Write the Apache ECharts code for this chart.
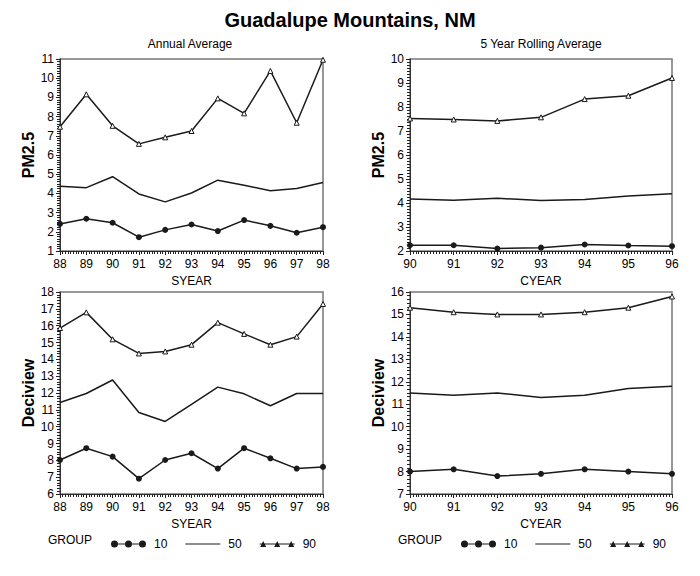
<!DOCTYPE html>
<html><head><meta charset="utf-8">
<script src="https://cdn.jsdelivr.net/npm/echarts@6/dist/echarts.min.js"></script>
<style>html,body{margin:0;padding:0;background:#fff}#c{width:700px;height:576px}</style>
</head><body><div id="c"></div><script>
// ---- data ----
const yearsAnnual = [88, 89, 90, 91, 92, 93, 94, 95, 96, 97, 98];
const yearsRolling = [90, 91, 92, 93, 94, 95, 96];

const pmAnnual10 = [2.41, 2.68, 2.47, 1.72, 2.10, 2.38, 2.04, 2.61, 2.31, 1.95, 2.24];
const pmAnnual50 = [4.37, 4.30, 4.87, 3.97, 3.56, 4.02, 4.69, 4.43, 4.14, 4.25, 4.57];
const pmAnnual90 = [7.47, 9.16, 7.52, 6.58, 6.92, 7.25, 8.95, 8.17, 10.38, 7.68, 10.96];

const pmRolling10 = [2.24, 2.24, 2.10, 2.14, 2.27, 2.23, 2.20];
const pmRolling50 = [4.17, 4.11, 4.20, 4.10, 4.15, 4.29, 4.39];
const pmRolling90 = [7.52, 7.48, 7.42, 7.57, 8.33, 8.47, 9.21];

const dvAnnual10 = [8.02, 8.72, 8.22, 6.91, 8.02, 8.42, 7.51, 8.72, 8.12, 7.51, 7.61];
const dvAnnual50 = [11.44, 11.97, 12.77, 10.84, 10.31, 11.32, 12.35, 11.95, 11.24, 11.97, 11.97];
const dvAnnual90 = [15.86, 16.79, 15.19, 14.35, 14.47, 14.87, 16.18, 15.51, 14.87, 15.35, 17.29];

const dvRolling10 = [8.0, 8.1, 7.8, 7.9, 8.1, 8.0, 7.9];
const dvRolling50 = [11.5, 11.4, 11.5, 11.3, 11.4, 11.7, 11.8];
const dvRolling90 = [15.3, 15.1, 15.0, 15.0, 15.1, 15.3, 15.8];

const groupNames = ['10', '50', '90'];
const mainTitle = 'Guadalupe Mountains, NM';
const subTitles = ['Annual Average', '5 Year Rolling Average'];

// ---- build ----
const FONT = 'Liberation Sans, Arial, sans-serif';
const INK = '#1a1a1a';
const pair = (xs, ys) => xs.map((x, i) => [x, ys[i]]);

const grids = [
  {left: 60, top: 59, width: 263, height: 192},
  {left: 410, top: 59, width: 262, height: 192},
  {left: 60, top: 292, width: 263, height: 202},
  {left: 410, top: 292, width: 262, height: 202}
].map(g => Object.assign(g, {show: true, borderColor: '#777', borderWidth: 1.5, backgroundColor: 'transparent'}));

function xAx(idx, min, max, name, minorN) {
  return {
    type: 'value', gridIndex: idx, min: min, max: max, interval: 1,
    name: name, nameLocation: 'middle', nameGap: 24,
    nameTextStyle: {fontFamily: FONT, fontSize: 12, color: '#000'},
    axisLine: {onZero: false, lineStyle: {color: '#333', width: 1}},
    axisTick: {show: true, length: 4, lineStyle: {color: '#222'}},
    minorTick: {show: true, splitNumber: minorN, length: 3, lineStyle: {color: '#222', width: 1}},
    axisLabel: {fontFamily: FONT, fontSize: 12, color: '#000', margin: 7},
    splitLine: {show: false}
  };
}
function yAx(idx, min, max, name, minorN) {
  return {
    type: 'value', gridIndex: idx, min: min, max: max, interval: 1,
    name: name, nameLocation: 'middle', nameGap: 21,
    nameTextStyle: {fontFamily: FONT, fontSize: 16, fontWeight: 'bold', color: '#000'},
    axisLine: {onZero: false, lineStyle: {color: '#333', width: 1}},
    axisTick: {show: true, length: 4, lineStyle: {color: '#222'}},
    minorTick: {show: true, splitNumber: minorN, length: 3, lineStyle: {color: '#222', width: 1}},
    axisLabel: {fontFamily: FONT, fontSize: 12, color: '#000', margin: 6},
    splitLine: {show: false}
  };
}

const xAxes = [
  xAx(0, 88, 98, 'SYEAR', 10),
  xAx(1, 90, 96, 'CYEAR', 15),
  xAx(2, 88, 98, 'SYEAR', 10),
  xAx(3, 90, 96, 'CYEAR', 15)
];
const yAxes = [
  yAx(0, 1, 11, 'PM2.5', 8),
  yAx(1, 2, 10, 'PM2.5', 8),
  yAx(2, 6, 18, 'Deciview', 6),
  yAx(3, 7, 16, 'Deciview', 6)
];

const panelData = [
  [yearsAnnual, pmAnnual10, pmAnnual50, pmAnnual90],
  [yearsRolling, pmRolling10, pmRolling50, pmRolling90],
  [yearsAnnual, dvAnnual10, dvAnnual50, dvAnnual90],
  [yearsRolling, dvRolling10, dvRolling50, dvRolling90]
];

const series = [];
panelData.forEach((p, i) => {
  const xs = p[0];
  series.push({
    name: groupNames[0], type: 'line', xAxisIndex: i, yAxisIndex: i,
    data: pair(xs, p[1]), symbol: 'circle', symbolSize: 6, color: INK,
    itemStyle: {color: INK}, lineStyle: {color: INK, width: 1.5}
  });
  series.push({
    name: groupNames[1], type: 'line', xAxisIndex: i, yAxisIndex: i,
    data: pair(xs, p[2]), symbol: 'none', showSymbol: false, color: INK,
    lineStyle: {color: INK, width: 1.5}
  });
  series.push({
    name: groupNames[2], type: 'line', xAxisIndex: i, yAxisIndex: i,
    data: pair(xs, p[3]), symbol: 'triangle', symbolSize: 5, color: INK,
    itemStyle: {color: '#fff', borderColor: INK, borderWidth: 1},
    lineStyle: {color: INK, width: 1.5}
  });
});

const iconDots = 'path://M0,3 L35,3 L35,4 L0,4 Z M0,3.5 A3.5,3.5 0 1 1 7,3.5 A3.5,3.5 0 1 1 0,3.5 Z M14,3.5 A3.5,3.5 0 1 1 21,3.5 A3.5,3.5 0 1 1 14,3.5 Z M28,3.5 A3.5,3.5 0 1 1 35,3.5 A3.5,3.5 0 1 1 28,3.5 Z';
const iconLine = 'path://M0,3 L35,3 L35,4 L0,4 Z';
const iconTri = 'path://M0,3 L35,3 L35,4 L0,4 Z M0.5,6.5 L3.5,0.5 L6.5,6.5 Z M14.5,6.5 L17.5,0.5 L20.5,6.5 Z M28.5,6.5 L31.5,0.5 L34.5,6.5 Z';

function legendAt(left) {
  return {
    left: left, top: 533, orient: 'horizontal', itemWidth: 35, itemHeight: 7, itemGap: 18,
    selectedMode: false,
    textStyle: {fontFamily: FONT, fontSize: 12, color: '#000', padding: [0, 0, 0, 3]},
    data: [
      {name: groupNames[0], icon: iconDots, itemStyle: {color: INK, borderWidth: 0}},
      {name: groupNames[1], icon: iconLine, itemStyle: {color: INK, borderWidth: 0}},
      {name: groupNames[2], icon: iconTri, itemStyle: {color: INK, borderWidth: 0}}
    ]
  };
}

const txt = (x, y, text, size, weight, align) => ({
  type: 'text', x: x, y: y,
  style: {text: text, fontFamily: FONT, fontSize: size, fontWeight: weight || 'normal',
          fill: '#000', textAlign: align || 'center', textVerticalAlign: 'middle'}
});

const chart = echarts.init(document.getElementById('c'), null, {renderer: 'svg'});
chart.setOption({
  animation: false,
  backgroundColor: '#fff',
  grid: grids,
  xAxis: xAxes,
  yAxis: yAxes,
  series: series,
  legend: [legendAt(106), legendAt(456)],
  graphic: [
    txt(350, 20, mainTitle, 20, 'bold'),
    txt(190, 44, subTitles[0], 12),
    txt(541, 44, subTitles[1], 12),
    txt(48, 540, 'GROUP', 12, 'normal', 'left'),
    txt(398, 540, 'GROUP', 12, 'normal', 'left')
  ]
});
</script></body></html>
